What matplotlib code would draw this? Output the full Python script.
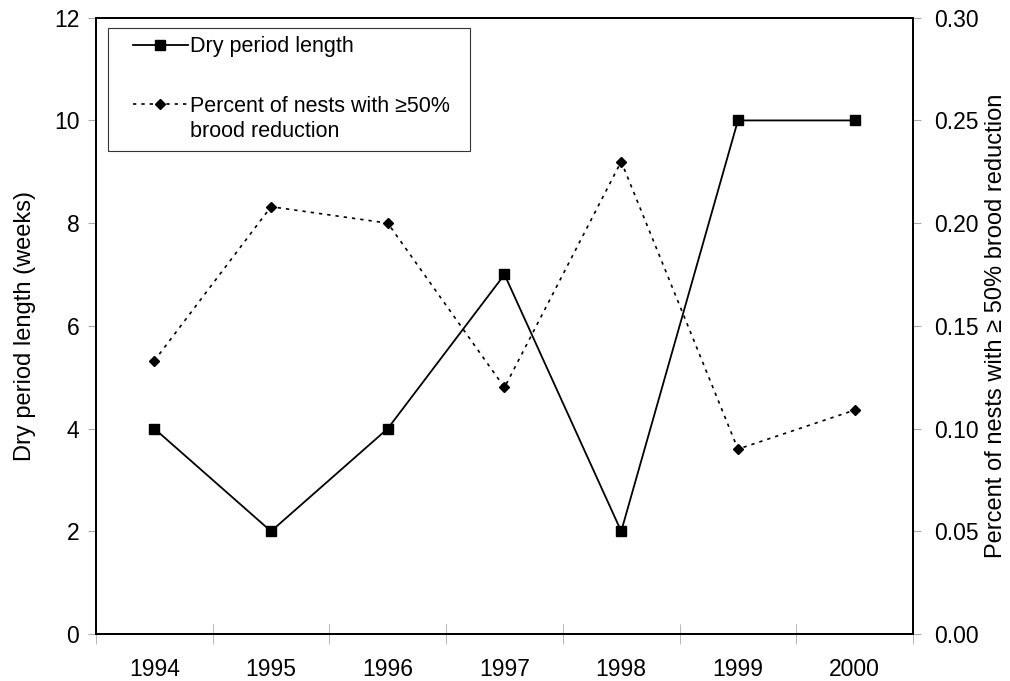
import matplotlib.pyplot as plt
from matplotlib.lines import Line2D
from matplotlib.legend_handler import HandlerLine2D
import numpy as np

years = ['1994', '1995', '1996', '1997', '1998', '1999', '2000']
dry_weeks = [4, 2, 4, 7, 2, 10, 10]
pct_reduction = [0.133, 0.208, 0.200, 0.120, 0.230, 0.090, 0.109]

plt.rcParams['font.family'] = ['Liberation Sans', 'DejaVu Sans']
plt.rcParams['font.size'] = 16.5

fig = plt.figure(figsize=(10.1, 6.81), dpi=100)
ax = fig.add_axes([0.095, 0.069, 0.809, 0.905])
ax2 = ax.twinx()

x = np.arange(len(years))
l1, = ax.plot(x, dry_weeks, color='black', lw=1.3, marker='s', ms=7,
              label='Dry period length')
l2, = ax2.plot(x, pct_reduction, color='black', lw=1.2, ls=(0, (2, 3)),
               marker='D', ms=5)

ax.set_xlim(-0.5, len(years) - 0.5)
ax.set_ylim(0, 12)
ax.set_yticks(range(0, 13, 2))
ax2.set_ylim(0, 0.30)
ax2.set_yticks(np.arange(0, 0.31, 0.05))
ax2.set_yticklabels(['%.2f' % v for v in np.arange(0, 0.31, 0.05)])

ax.set_xticks(x)
ax.set_xticklabels(years)
ax.set_xticks(np.arange(-0.5, len(years), 1), minor=True)
ax.tick_params(axis='x', which='major', length=0, pad=17)
ax.tick_params(axis='x', which='minor', length=14, direction='inout', color='#aaaaaa')
ax.tick_params(axis='y', length=6, color='#aaaaaa', pad=6)
ax2.tick_params(axis='y', length=6, color='#aaaaaa', pad=9)

for a in (ax, ax2):
    for s in a.spines.values():
        s.set_linewidth(1.3)

ax.set_ylabel('Dry period length (weeks)', fontsize=17, labelpad=13)
ax2.set_ylabel('Percent of nests with \u2265 50% brood reduction', fontsize=17, labelpad=5)

# legend: dotted entry sits on the first line of its two-line label
blank = Line2D([], [], color='none')
handles = [l1, blank, l2, blank]
labels = ['Dry period length', ' ', 'Percent of nests with \u226550%  ', 'brood reduction']
hmap = {l1: HandlerLine2D(xpad=0.75), l2: HandlerLine2D(xpad=0.75)}
leg = ax.legend(handles, labels, loc='upper left', handler_map=hmap,
                bbox_to_anchor=(0.0147, 0.984), borderaxespad=0,
                frameon=True, fancybox=False,
                edgecolor='black', labelspacing=0.2, handlelength=3.3,
                handletextpad=0.1, borderpad=0.4, fontsize=15.5)
leg.get_frame().set_linewidth(0.8)
leg.get_texts()[1].set_fontsize(22)

fig.savefig('out.png', dpi=100)
